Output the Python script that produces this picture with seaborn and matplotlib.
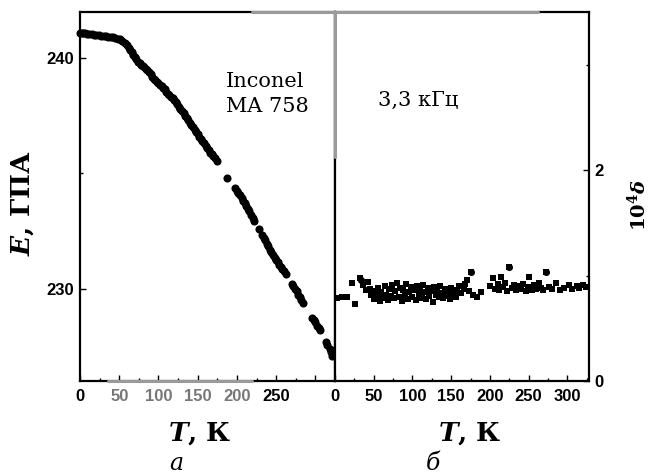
import numpy as np
import pandas as pd
import matplotlib.pyplot as plt
import seaborn as sns
from matplotlib.lines import Line2D
from matplotlib.ticker import MultipleLocator

### data

# panel a: Young's modulus E (GPa) vs T (K)
T_a = [0, 2, 4, 6, 9, 12, 15, 18, 21, 24,
       27, 30, 33, 36, 39, 42, 45, 48, 51, 54,
       57, 60, 62, 64, 66, 68, 70, 72, 74, 76,
       78, 80, 82, 84, 86, 88, 90, 92, 94, 96,
       98, 100, 102, 104, 106, 108, 110, 112, 114, 116,
       118, 120, 122, 124, 126, 128, 130, 132, 134, 136,
       138, 140, 142, 144, 146, 148, 150, 152, 154, 156,
       158, 160, 162, 164, 166, 168, 170, 172, 174, 187,
       198, 200, 202, 204, 206, 208, 210, 212, 214, 216,
       218, 220, 222, 228, 232, 234, 236, 238, 240, 242,
       244, 246, 248, 250, 252, 254, 256, 258, 260, 262,
       270, 272, 274, 276, 278, 280, 282, 284, 296, 298,
       300, 302, 304, 306, 313, 315, 318, 320, 321]
E_a = [241.1, 241.1, 241.08, 241.1, 241.05, 241.05, 241.03, 241.0, 241.0, 241.0,
       240.98, 240.97, 240.95, 240.93, 240.92, 240.9, 240.88, 240.85, 240.82, 240.75,
       240.65, 240.55, 240.45, 240.35, 240.25, 240.15, 240.05, 239.95, 239.85, 239.78,
       239.72, 239.65, 239.6, 239.55, 239.5, 239.4, 239.3, 239.2, 239.1, 239.05,
       238.97, 238.9, 238.85, 238.8, 238.72, 238.65, 238.55, 238.45, 238.4, 238.3,
       238.25, 238.2, 238.1, 238.0, 237.9, 237.8, 237.7, 237.6, 237.5, 237.4,
       237.3, 237.2, 237.1, 237.0, 236.9, 236.8, 236.7, 236.6, 236.5, 236.4,
       236.3, 236.2, 236.1, 236.0, 235.9, 235.85, 235.75, 235.65, 235.55, 234.8,
       234.35, 234.25, 234.15, 234.05, 233.95, 233.8, 233.7, 233.6, 233.45, 233.35,
       233.2, 233.05, 232.95, 232.6, 232.35, 232.2, 232.1, 231.95, 231.85, 231.7,
       231.6, 231.45, 231.35, 231.25, 231.15, 231.05, 230.95, 230.85, 230.75, 230.65,
       230.2, 230.1, 230.0, 229.9, 229.75, 229.65, 229.5, 229.4, 228.75, 228.65,
       228.55, 228.4, 228.3, 228.2, 227.7, 227.55, 227.4, 227.25, 227.1]

# panel b: internal friction 10^4*delta vs T (K)
T_b = [3, 9, 15, 22, 26, 32, 36, 40, 42, 45,
       47, 50, 52, 54, 56, 58, 60, 62, 64, 66,
       68, 70, 72, 74, 76, 78, 80, 82, 84, 86,
       88, 90, 92, 94, 96, 98, 100, 102, 104, 106,
       108, 110, 112, 114, 116, 118, 120, 122, 124, 126,
       128, 130, 132, 134, 136, 138, 140, 142, 144, 146,
       148, 150, 152, 154, 156, 158, 160, 163, 166, 168,
       170, 173, 176, 178, 183, 189, 200, 204, 207, 210,
       212, 215, 217, 220, 222, 225, 228, 231, 234, 237,
       240, 243, 246, 249, 251, 254, 257, 260, 263, 266,
       269, 273, 276, 280, 286, 290, 296, 302, 306, 312,
       315, 320, 324]
d_b = [0.79, 0.80, 0.80, 0.93, 0.73, 0.98, 0.91, 0.86, 0.94, 0.87,
       0.82, 0.78, 0.85, 0.80, 0.88, 0.76, 0.84, 0.79, 0.90, 0.82,
       0.77, 0.87, 0.81, 0.91, 0.79, 0.85, 0.93, 0.80, 0.88, 0.76,
       0.86, 0.81, 0.92, 0.78, 0.84, 0.89, 0.80, 0.86, 0.77, 0.90,
       0.82, 0.87, 0.79, 0.91, 0.84, 0.78, 0.88, 0.81, 0.85, 0.75,
       0.89, 0.82, 0.86, 0.80, 0.90, 0.83, 0.79, 0.87, 0.81, 0.85,
       0.78, 0.88, 0.82, 0.86, 0.80, 0.84, 0.90, 0.83, 0.87, 0.92,
       0.96, 0.85, 1.03, 0.82, 0.80, 0.84, 0.90, 0.98, 0.87, 0.92,
       0.86, 0.99, 0.89, 0.93, 0.85, 1.08, 0.88, 0.91, 0.86, 0.90,
       0.87, 0.92, 0.85, 0.89, 0.99, 0.86, 0.91, 0.87, 0.93, 0.88,
       0.86, 1.03, 0.89, 0.87, 0.93, 0.86, 0.88, 0.91, 0.87, 0.90,
       0.88, 0.91, 0.89]
# a few round points mixed into panel b
T_b_round = [34, 44, 176, 225, 273]
d_b_round = [0.96, 0.87, 1.03, 1.08, 1.03]

df_a = pd.DataFrame({'T': T_a, 'E': E_a})
df_b = pd.DataFrame({'T': T_b, 'd': d_b})
df_br = pd.DataFrame({'T': T_b_round, 'd': d_b_round})

sns.set_theme(style='ticks')
plt.rcParams['font.family'] = ['Liberation Sans Narrow', 'Liberation Sans', 'DejaVu Sans']
plt.rcParams['text.color'] = 'black'
plt.rcParams['xtick.color'] = 'black'
plt.rcParams['ytick.color'] = 'black'
plt.rcParams['mathtext.fontset'] = 'custom'
plt.rcParams['mathtext.rm'] = 'DejaVu Serif:bold'
plt.rcParams['mathtext.it'] = 'DejaVu Serif:italic:bold'
plt.rcParams['mathtext.bf'] = 'DejaVu Serif:bold'

W, H = 652, 474
fig = plt.figure(figsize=(W / 100, H / 100), dpi=100)
ax1 = fig.add_axes([80 / W, 93 / H, 255 / W, 369 / H])
ax2 = fig.add_axes([335 / W, 93 / H, 254 / W, 369 / H])

sns.scatterplot(data=df_a, x='T', y='E', ax=ax1, color='black', marker='o',
                s=34, edgecolor='black', linewidth=0, clip_on=False, zorder=3)
sns.scatterplot(data=df_b, x='T', y='d', ax=ax2, color='black', marker='s',
                s=20, edgecolor='black', linewidth=0, clip_on=False, zorder=3)
sns.scatterplot(data=df_br, x='T', y='d', ax=ax2, color='black', marker='o',
                s=26, edgecolor='black', linewidth=0, clip_on=False, zorder=4)

tick_font = dict(fontsize=12, fontweight='bold', color='black')

## panel a axes
ax1.set_xlim(0, 325)
ax1.set_ylim(226, 242)
ax1.set_xticks([0, 50, 100, 150, 200, 250, 300])
ax1.set_xticklabels(['0', '50', '100', '150', '200', '250', ''], **tick_font)
ax1.xaxis.set_minor_locator(MultipleLocator(25))
ax1.set_yticks([230, 240])
ax1.set_yticklabels(['230', '240'], **tick_font)
ax1.yaxis.set_minor_locator(MultipleLocator(5))
ax1.tick_params(which='both', direction='in', right=False, top=False)
ax1.tick_params(axis='x', pad=6)
ax1.tick_params(axis='y', pad=4)
ax1.tick_params(which='major', length=4, width=1)
ax1.tick_params(which='minor', length=2.5, width=1)
for lab in ax1.get_xticklabels()[1:5]:
    lab.set_color('#777777')

## panel b axes
ax2.set_xlim(0, 328)
ax2.set_ylim(0, 3.5)
ax2.set_xticks([0, 50, 100, 150, 200, 250, 300])
ax2.set_xticklabels(['0', '50', '100', '150', '200', '250', '300'], **tick_font)
ax2.xaxis.set_minor_locator(MultipleLocator(25))
ax2.set_yticks([0, 2])
ax2.set_yticklabels(['0', '2'], **tick_font)
ax2.yaxis.set_minor_locator(MultipleLocator(1))
ax2.yaxis.tick_right()
ax2.tick_params(which='both', direction='in', left=False, top=False)
ax2.tick_params(axis='x', pad=6)
ax2.tick_params(axis='y', pad=4)
ax2.tick_params(which='major', length=4, width=1)
ax2.tick_params(which='minor', length=2.5, width=1)

for ax in (ax1, ax2):
    ax.set_xlabel('')
    ax.set_ylabel('')
    for sp in ax.spines.values():
        sp.set_visible(True)
        sp.set_color('black')
        sp.set_linewidth(1.6)

# greyish faded parts of the scanned frame
faded = '#9a9a9a'
for (x0, y0, x1, y1) in [(252, 12, 538, 12), (335, 12, 335, 157), (108, 381, 252, 381)]:
    fig.add_artist(Line2D([x0 / W, x1 / W], [1 - y0 / H, 1 - y1 / H],
                          color=faded, lw=2.2, transform=fig.transFigure, zorder=5))

## labels
serif = ['DejaVu Serif']
fig.text(23 / W, 1 - 203 / H, r'$E$, ГПА', rotation=90, ha='center', va='center',
         fontsize=19, family=serif, fontweight='bold')
fig.text(200 / W, 1 - 434 / H, r'$T$, К', ha='center', va='center',
         fontsize=19, family=serif, fontweight='bold')
fig.text(470 / W, 1 - 434 / H, r'$T$, К', ha='center', va='center',
         fontsize=19, family=serif, fontweight='bold')
fig.text(176 / W, 1 - 464 / H, 'а', ha='center', va='center',
         fontsize=17, family=serif, style='italic')
fig.text(433 / W, 1 - 464 / H, 'б', ha='center', va='center',
         fontsize=17, family=serif, style='italic')
fig.text(638 / W, 1 - 205 / H, r'$10^4\delta$', rotation=90, ha='center', va='center',
         fontsize=14, family=serif, fontweight='bold')
fig.text(226 / W, 1 - 94 / H, 'Inconel\nMA 758', ha='left', va='center',
         fontsize=15, family=serif, linespacing=1.35)
fig.text(378 / W, 1 - 100 / H, '3,3 кГц', ha='left', va='center',
         fontsize=15, family=serif)

fig.savefig('out.png', dpi=100)
